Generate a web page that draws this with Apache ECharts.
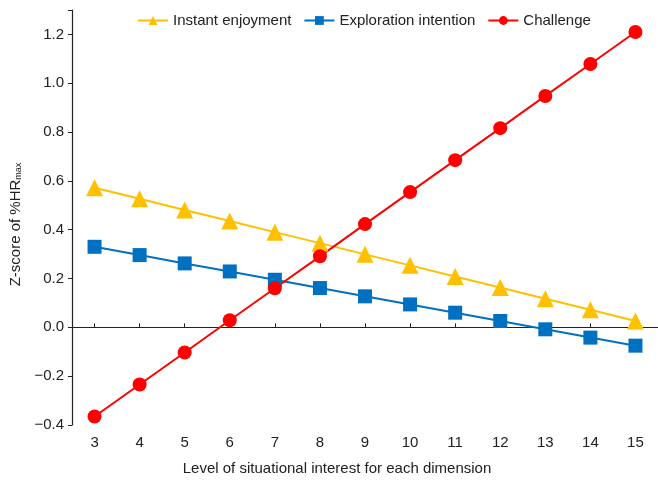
<!DOCTYPE html>
<html><head><meta charset="utf-8">
<script src="https://cdn.jsdelivr.net/npm/echarts@6/dist/echarts.min.js"></script>
<style>html,body{margin:0;padding:0;background:#fff}#c{width:658px;height:481px}</style>
</head><body><div id="c"></div>
<script>
const categories = ['3','4','5','6','7','8','9','10','11','12','13','14','15'];
const instantEnjoyment = [0.572, 0.527, 0.481, 0.436, 0.390, 0.345, 0.299, 0.254, 0.208, 0.163, 0.117, 0.072, 0.026];
const explorationIntention = [0.330, 0.296, 0.262, 0.229, 0.195, 0.161, 0.127, 0.094, 0.060, 0.026, -0.008, -0.042, -0.075];
const challenge = [-0.365, -0.234, -0.103, 0.029, 0.160, 0.291, 0.423, 0.554, 0.685, 0.816, 0.948, 1.079, 1.210];
const seriesNames = ['Instant enjoyment', 'Exploration intention', 'Challenge'];

const font = 'Liberation Sans, Arial, sans-serif';
const fs = 15;
const chart = echarts.init(document.getElementById('c'), null, {renderer: 'canvas'});
chart.setOption({
  animation: false,
  backgroundColor: '#fff',
  textStyle: {fontFamily: font},
  grid: {left: 68, right: 0, top: 10, bottom: 56, containLabel: false},
  legend: {
    top: 8, left: 132, itemGap: 12, itemWidth: 30, itemHeight: 11,
    textStyle: {fontFamily: font, fontSize: fs, color: '#222'},
    data: seriesNames
  },
  xAxis: [
    {
      type: 'category', data: categories, position: 'bottom', boundaryGap: true,
      axisLine: {show: false, onZero: false}, axisTick: {show: false},
      axisLabel: {fontFamily: font, fontSize: fs, color: '#222', margin: 10},
      name: 'Level of situational interest for each dimension',
      nameLocation: 'middle', nameGap: 36,
      nameTextStyle: {fontFamily: font, fontSize: fs, color: '#222', padding: [0, 56, 0, 0]},
      splitLine: {show: false}
    },
    {
      type: 'category', data: categories, position: 'top', boundaryGap: true,
      axisLine: {show: true, onZero: true, lineStyle: {color: '#222', width: 1.2}},
      axisTick: {show: true, alignWithLabel: true, length: 4, lineStyle: {color: '#222'}},
      axisLabel: {show: false}, splitLine: {show: false}
    }
  ],
  yAxis: {
    type: 'value', min: -0.4, max: 1.3, interval: 0.2,
    axisLine: {show: true, onZero: false, lineStyle: {color: '#222', width: 1.2}},
    axisTick: {show: true, length: 4, lineStyle: {color: '#222'}},
    axisLabel: {
      fontFamily: font, fontSize: fs, color: '#222', margin: 8,
      formatter: v => {
        const r = Math.round(v * 10);
        if (r % 2 !== 0) return '';
        return (r / 10).toFixed(1).replace('-', '\u2212');
      }
    },
    splitLine: {show: false},
    name: '{a|Z-score of %HR}{b|max}',
    nameLocation: 'middle', nameGap: 45, nameRotate: 90,
    nameTextStyle: {
      padding: [0, 14, 0, 0],
      rich: {
        a: {fontFamily: font, fontSize: fs, color: '#222'},
        b: {fontFamily: font, fontSize: 9, color: '#222', verticalAlign: 'bottom', padding: [7, 0, 0, 0]}
      }
    }
  },
  series: [
    {
      name: seriesNames[0], type: 'line', data: instantEnjoyment, xAxisIndex: 0,
      symbol: 'triangle', symbolSize: 17,
      lineStyle: {color: '#FFC000', width: 2}, itemStyle: {color: '#FFC000'}
    },
    {
      name: seriesNames[1], type: 'line', data: explorationIntention, xAxisIndex: 0,
      symbol: 'rect', symbolSize: 14,
      lineStyle: {color: '#0070C0', width: 2}, itemStyle: {color: '#0070C0'}
    },
    {
      name: seriesNames[2], type: 'line', data: challenge, xAxisIndex: 0,
      symbol: 'circle', symbolSize: 14,
      lineStyle: {color: '#FF0000', width: 2}, itemStyle: {color: '#FF0000'}
    }
  ]
});
</script></body></html>
